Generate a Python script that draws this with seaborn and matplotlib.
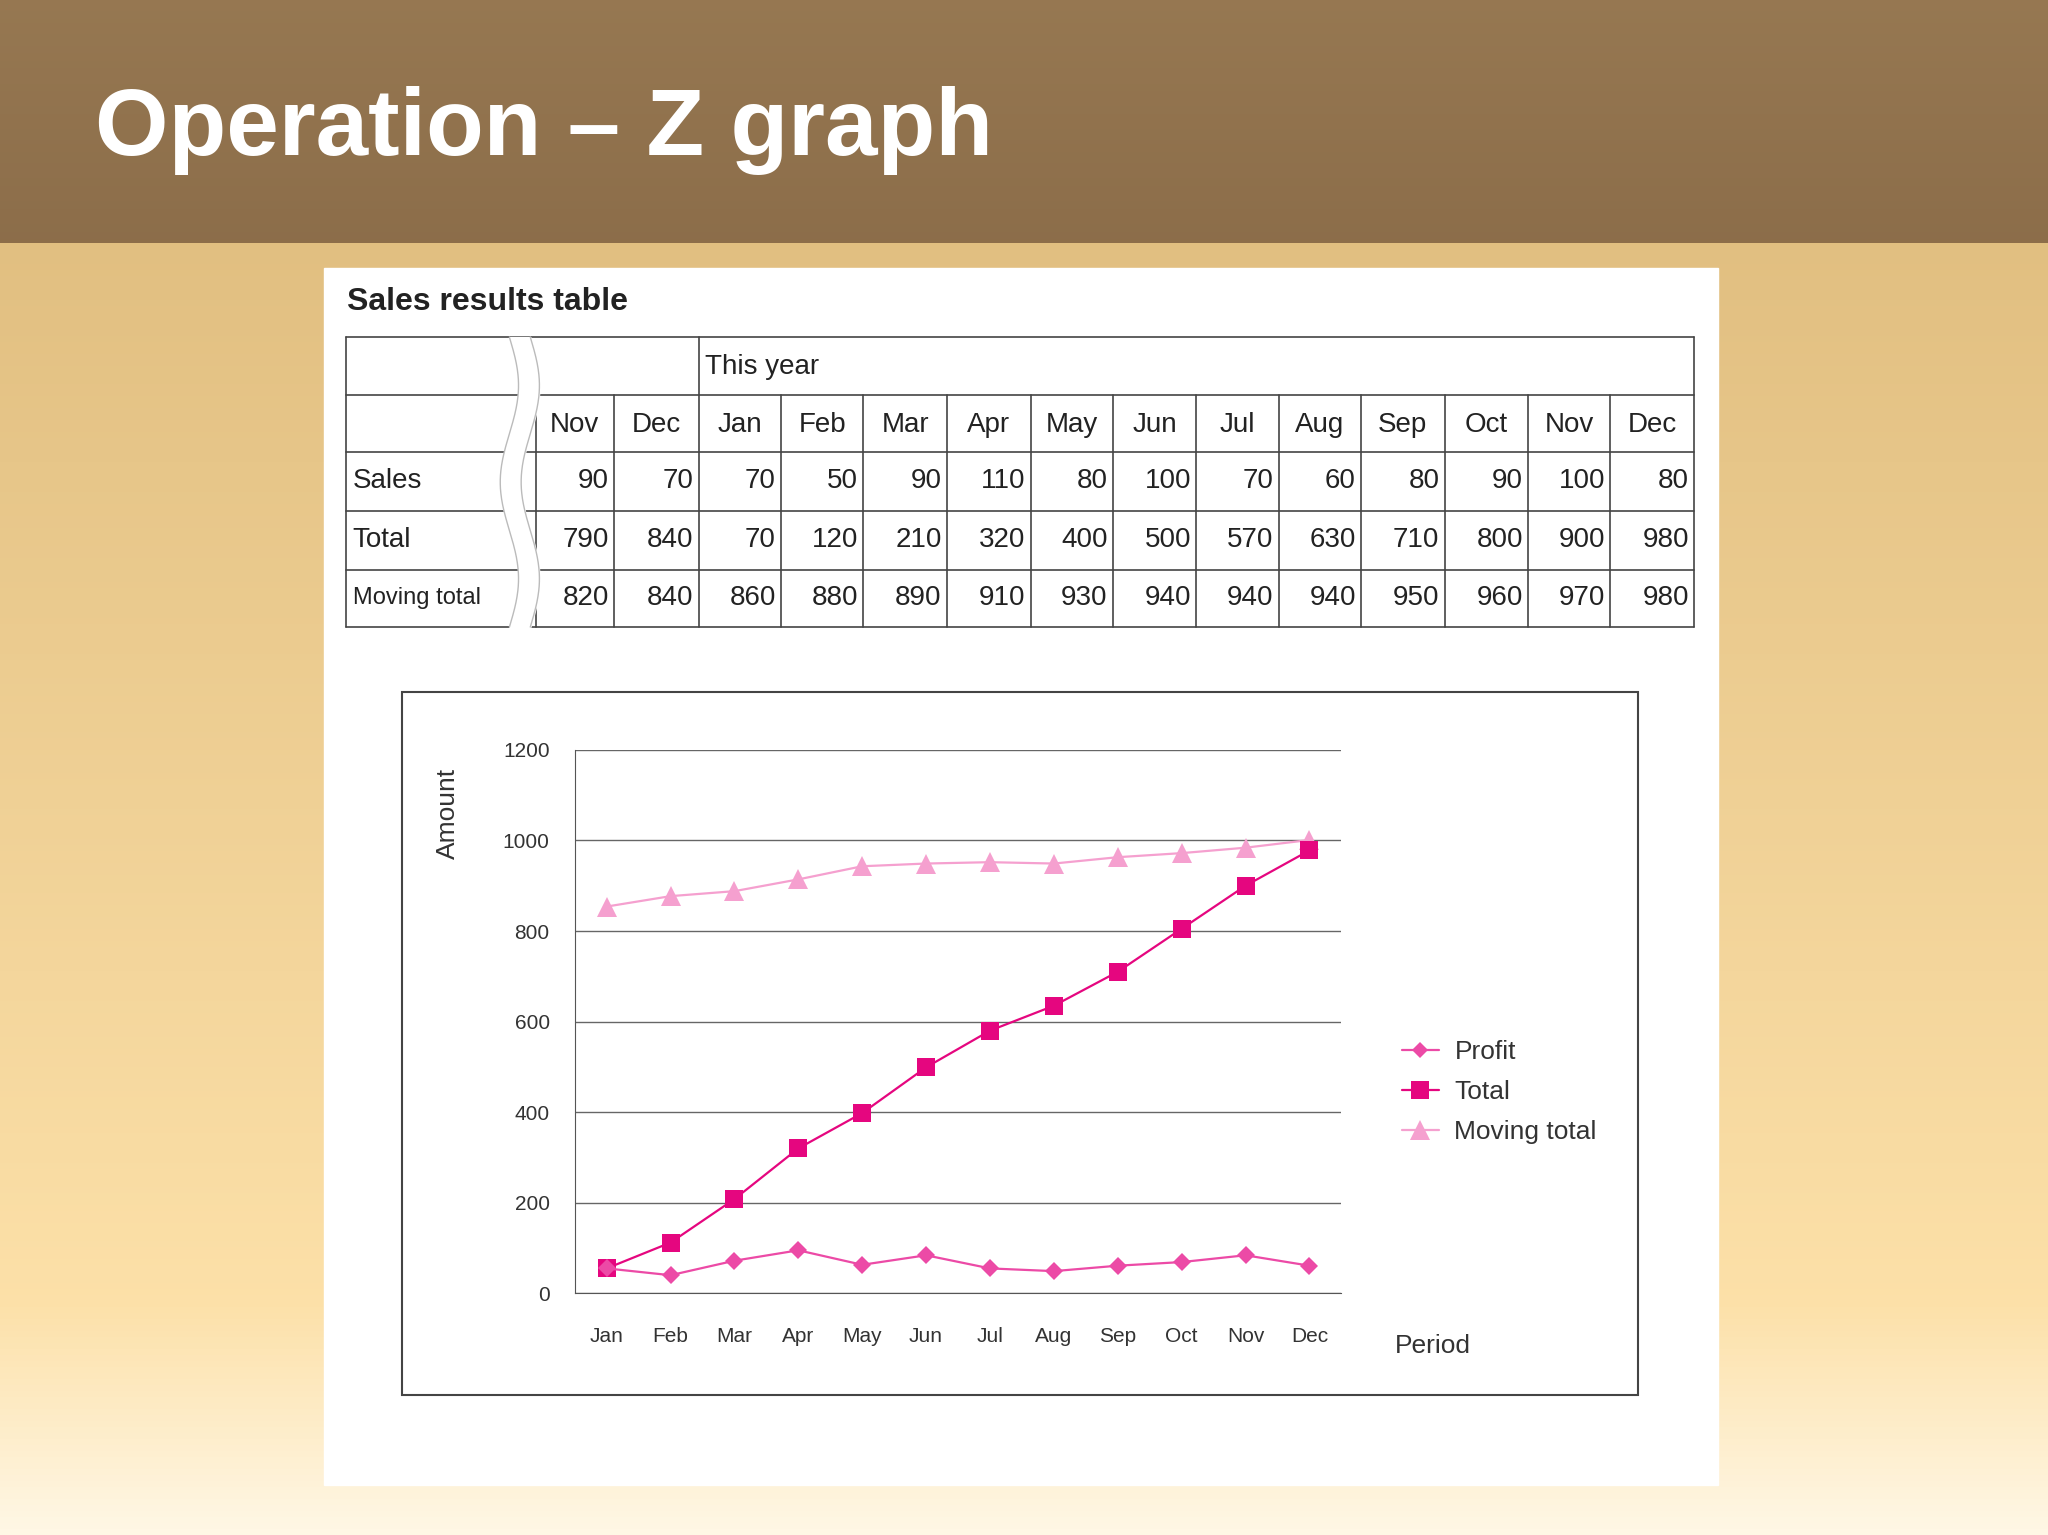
import numpy as np
import pandas as pd
import matplotlib
matplotlib.use("Agg")
import matplotlib.pyplot as plt
from matplotlib.patches import Rectangle
from matplotlib.lines import Line2D
import seaborn as sns

# ---- data ----
months = ["Jan", "Feb", "Mar", "Apr", "May", "Jun", "Jul", "Aug", "Sep", "Oct", "Nov", "Dec"]
table_months = ["Nov", "Dec"] + months
sales = [90, 70, 70, 50, 90, 110, 80, 100, 70, 60, 80, 90, 100, 80]
total = [790, 840, 70, 120, 210, 320, 400, 500, 570, 630, 710, 800, 900, 980]
moving_total = [820, 840, 860, 880, 890, 910, 930, 940, 940, 940, 950, 960, 970, 980]

# values as drawn in the chart
chart_profit = [55, 40, 72, 95, 63, 84, 55, 49, 61, 69, 84, 61]
chart_total = [55, 112, 208, 320, 398, 499, 580, 635, 710, 805, 900, 978]
chart_moving = [854, 877, 888, 914, 943, 949, 952, 949, 963, 972, 984, 1001]

sns.set_style("white")
plt.rcParams["font.family"] = ["Liberation Sans", "DejaVu Sans"]

W, H = 1568.0, 1175.0
fig = plt.figure(figsize=(20.48, 15.35), dpi=100)

def fx(x):
    return x / W

def fy(y):
    return 1 - y / H

# background
bg = fig.add_axes([0, 0, 1, 1])
bg.set_axis_off()
grad = np.linspace(0, 1, 256)
c1 = np.array([0.86, 0.72, 0.47])
c2 = np.array([0.99, 0.88, 0.66])
c3 = np.array([1.0, 0.97, 0.90])
cols = np.array([c1 + (c2 - c1) * min(g / 0.85, 1) if g < 0.85 else c2 + (c3 - c2) * (g - 0.85) / 0.15 for g in grad])
bg.imshow(cols[:, None, :], aspect="auto", extent=[0, 1, 0, 1], origin="upper")
hdr = np.linspace(0, 1, 64)
hc = np.array([[0.59, 0.47, 0.32]]) + hdr[:, None] * np.array([[-0.04, -0.04, -0.03]])
bg.imshow(hc[:, None, :], aspect="auto", extent=[0, 1, fy(186), 1], origin="upper")
bg.set_xlim(0, 1)
bg.set_ylim(0, 1)
bg.add_patch(Rectangle((fx(248), fy(1137)), fx(1315) - fx(248), fy(205) - fy(1137), color="white"))
bg.text(fx(73), fy(100), "Operation \u2013 Z graph", color="white", fontsize=68, fontweight="bold", va="center")

# ---- table ----
bg.text(fx(266), fy(231), "Sales results table", fontsize=23, fontweight="bold", va="center", color="#222222")
colx = [410, 470, 535, 598, 661, 725, 789, 852, 916, 979, 1042, 1106, 1170, 1233, 1297]
rowy = [258, 302, 346, 391, 436, 480]
lc = "#444444"
for y in rowy:
    bg.plot([fx(265), fx(1297)], [fy(y), fy(y)], color=lc, lw=1.2)
for x in colx:
    top = 258 if x in (535, 1297) else 302
    bg.plot([fx(x), fx(x)], [fy(top), fy(480)], color=lc, lw=1.2)
bg.plot([fx(265), fx(265)], [fy(258), fy(480)], color=lc, lw=1.2)
# wavy break
yy = np.linspace(258, 480, 200)
wx = 398 + 7 * np.sin((yy - 258) / 222 * 2 * np.pi * 1.5)
bg.fill_betweenx(fy(yy), fx(wx - 8), fx(wx + 8), color="white", zorder=3)
bg.plot(fx(wx - 8), fy(yy), color="#bbbbbb", lw=1, zorder=4)
bg.plot(fx(wx + 8), fy(yy), color="#bbbbbb", lw=1, zorder=4)

tfs = 20
bg.text(fx(540), fy(281), "This year", fontsize=tfs, va="center", color="#222222")
for i, m in enumerate(table_months):
    xc = (colx[i] + colx[i + 1]) / 2
    bg.text(fx(xc), fy(325), m, fontsize=tfs, va="center", ha="center", color="#222222")
for r, (lab, vals) in enumerate([("Sales", sales), ("Total", total), ("Moving total", moving_total)]):
    yc = (rowy[r + 2] + rowy[r + 3]) / 2
    bg.text(fx(270), fy(yc), lab, fontsize=tfs if r < 2 else 17, va="center", color="#222222", zorder=2)
    for i, v in enumerate(vals):
        bg.text(fx(colx[i + 1] - 4), fy(yc), str(v), fontsize=tfs, va="center", ha="right", color="#222222")

# chart frame
bg.add_patch(Rectangle((fx(308), fy(1068)), fx(1254) - fx(308), fy(530) - fy(1068),
                       fill=False, edgecolor="#444444", lw=1.5))

# ---- chart ----
ax = fig.add_axes([fx(440), fy(990), fx(1027) - fx(440), fy(574) - fy(990)])
df = pd.DataFrame({
    "x": list(range(12)) * 3,
    "Amount": chart_profit + chart_total + chart_moving,
    "series": ["Profit"] * 12 + ["Total"] * 12 + ["Moving total"] * 12,
})
palette = {"Profit": "#ec4aa6", "Total": "#e5067f", "Moving total": "#f5a0cf"}
markers = {"Profit": "D", "Total": "s", "Moving total": "^"}
sizes = {"Profit": 9, "Total": 13, "Moving total": 15}
for s in ["Moving total", "Total", "Profit"]:
    sub = df[df.series == s]
    sns.lineplot(data=sub, x="x", y="Amount", color=palette[s], marker=markers[s],
                 markersize=sizes[s], markeredgewidth=0, lw=1.6, ax=ax, legend=False, clip_on=False)
ax.set_xlim(-0.5, 11.5)
ax.set_ylim(0, 1200)
ax.set_yticks([0, 200, 400, 600, 800, 1000, 1200])
ax.yaxis.grid(True, color="#666666", lw=1)
ax.set_xticks(np.arange(-0.5, 12, 1))
ax.set_xticklabels([])
ax.set_xticks(range(12), minor=True)
ax.set_xticklabels(months, minor=True, fontsize=15, color="#333333")
ax.tick_params(axis="x", which="major", length=6, color="#555555", direction="out")
ax.tick_params(axis="x", which="minor", length=0, pad=24)
ax.tick_params(axis="y", length=6, labelsize=15, labelcolor="#333333", color="#555555", pad=12)
for sp in ["top", "right"]:
    ax.spines[sp].set_visible(False)
for sp in ["left", "bottom"]:
    ax.spines[sp].set_color("#555555")
ax.set_xlabel("")
ax.set_ylabel("")
bg.text(fx(343), fy(623), "Amount", rotation=90, fontsize=19, va="center", ha="center", color="#333333")
bg.text(fx(1068), fy(1030), "Period", fontsize=19, va="center", color="#333333")

handles = [Line2D([0], [0], color=palette[s], marker=markers[s], markersize=sizes[s] * 0.95,
                  markeredgewidth=0, lw=1.6) for s in ["Profit", "Total", "Moving total"]]
fig.legend(handles, ["Profit", "Total", "Moving total"], loc="upper left",
           bbox_to_anchor=(fx(1055), fy(778)), frameon=False, fontsize=19,
           handlelength=1.4, handletextpad=0.6, labelspacing=0.6, labelcolor="#333333")

fig.savefig("out.png", dpi=100)
